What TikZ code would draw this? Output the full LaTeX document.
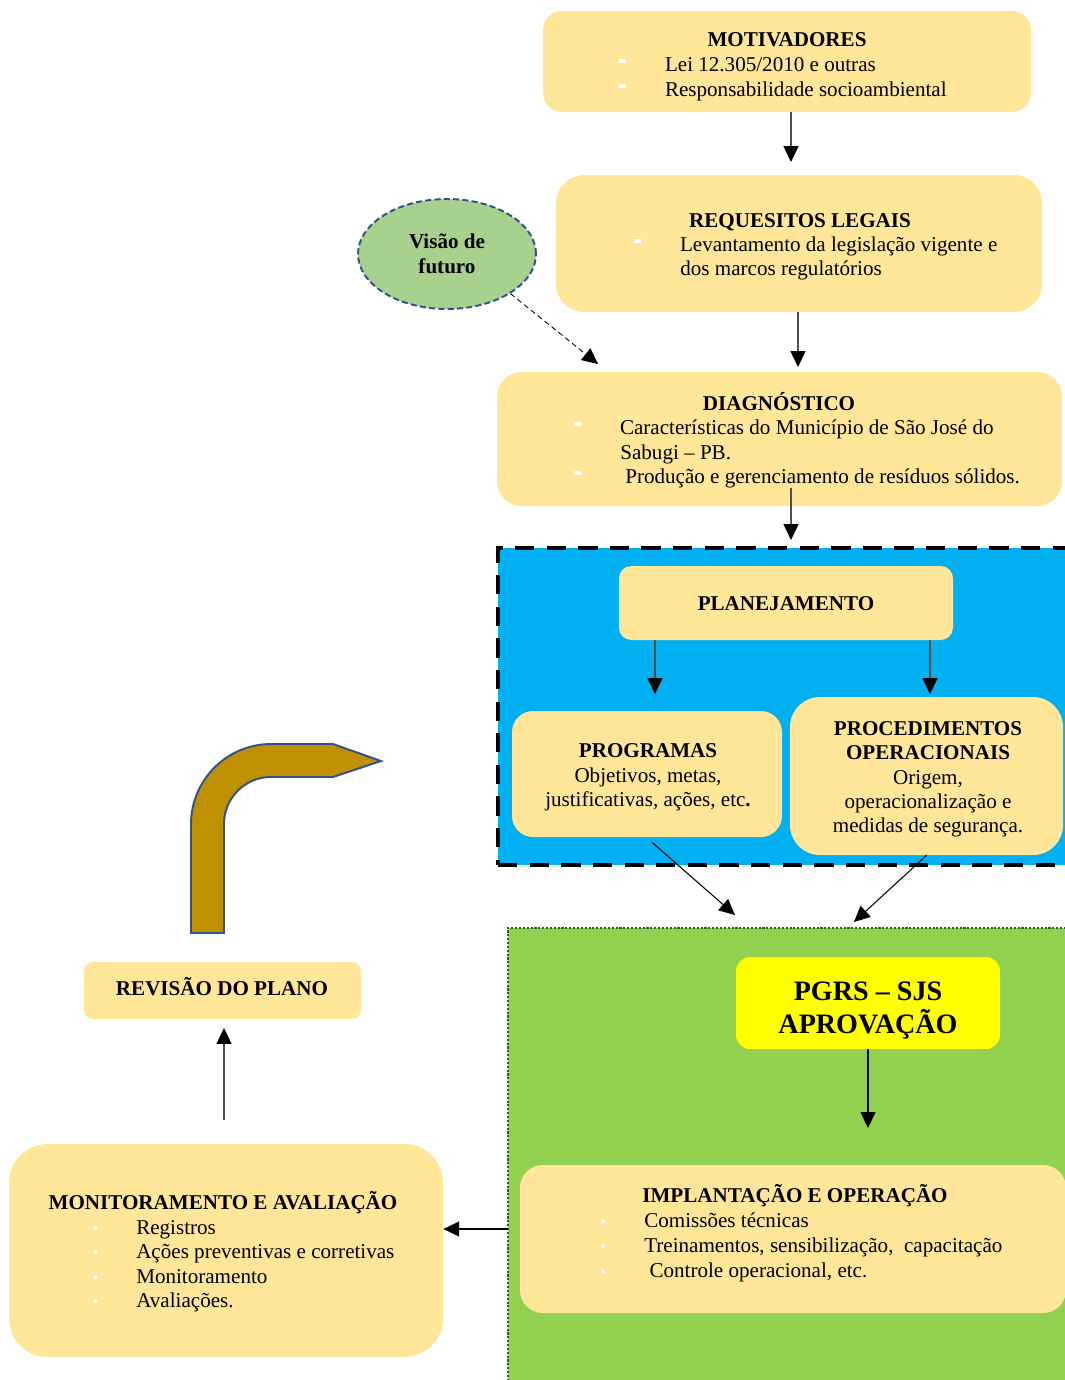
\documentclass[tikz,border=0pt]{standalone}
\usepackage{fontspec}
\setmainfont{Liberation Serif}
\usepackage{tikz}
\usetikzlibrary{arrows.meta,positioning,fit,shapes.geometric}
\definecolor{boxfill}{HTML}{FFE699}
\definecolor{planblue}{HTML}{00B0F0}
\definecolor{aprgreen}{HTML}{92D050}
\definecolor{dotgreen}{HTML}{385723}
\definecolor{visgreen}{HTML}{A9D18E}
\definecolor{edgeblue}{HTML}{2F528F}
\definecolor{bentgold}{HTML}{BF9000}
\definecolor{aprylw}{HTML}{FFFF00}
\definecolor{linegray}{HTML}{505050}

\newcommand{\sqbul}{\makebox[26pt][l]{\textcolor{white}{\rule[4.4pt]{3.6pt}{2.2pt}}}}
\newcommand{\dotbul}{\makebox[25pt][l]{\textcolor{white}{\fontsize{10}{10}\selectfont\textbullet}}}
\newcommand{\txtfont}{\fontsize{12}{14.2}\selectfont}

\tikzset{
  box/.style={fill=boxfill, inner sep=0pt},
  ttl/.style={font=\txtfont\bfseries, anchor=base, inner sep=0pt},
  itm/.style={anchor=base west, inner sep=0pt},
  ctr/.style={anchor=base, inner sep=0pt},
  arr/.style={draw=linegray, line width=0.6pt, -{Triangle[width=8.5pt,length=9pt,color=black]}},
  arrdot/.style={arr, draw=black, line width=0.5pt, densely dashed},
}

\begin{document}
\begin{tikzpicture}[x=0.02cm, y=-0.02cm, font=\txtfont]
\useasboundingbox (0,0) rectangle (1065,1380);
\clip (0,0) rectangle (1065,1380);

% frames
\node[fit={(498,548) (1085,865)}, inner sep=0pt, fill=planblue, draw=black,
  line width=2.3pt, dash pattern=on 11pt off 7pt] (plfr) {};
\node[fit={(508,928) (1085,1395)}, inner sep=0pt, fill=aprgreen, draw=dotgreen,
  line width=1.2pt, densely dotted] (apfr) {};

% boxes
\node[box, rounded corners=11pt, fit={(543,11) (1031,112)}] (mot) {};
\node[box, rounded corners=16pt, fit={(556,175) (1042,312)}] (req) {};
\node[box, rounded corners=14pt, fit={(497,372) (1062,506)}] (diag) {};
\node[box, rounded corners=7pt, fit={(619,566) (953,640)}] (plan) {};
\node[box, rounded corners=12pt, fit={(512,711) (782,837)}] (prog) {};
\node[box, rounded corners=17pt, fit={(790,697) (1063,855)}] (proc) {};
\node[box, fill=aprylw, rounded corners=8pt, fit={(736,957) (1000,1049)}] (pgrs) {};
\node[box, rounded corners=13pt, fit={(520,1165) (1066,1313)}] (impl) {};
\node[box, rounded corners=22pt, fit={(9,1144) (443,1357)}] (mon) {};
\node[box, rounded corners=5pt, fit={(84,962) (361,1019)}] (rev) {};
\node[ellipse, fill=visgreen, draw=edgeblue, line width=1.1pt, dash pattern=on 3.5pt off 1.8pt,
  minimum width=3.56cm, minimum height=2.2cm, inner sep=0pt, align=center,
  font=\txtfont\bfseries] (vis) at (447,254) {Visão de\\futuro};

% texts
\node[ttl] (motT) at (787,46) {MOTIVADORES};
\node[itm] (mot1) at (619,71) {\sqbul Lei 12.305/2010 e outras};
\node[itm] (mot2) at (619,96) {\sqbul Responsabilidade socioambiental};

\node[ttl] (reqT) at (800,227) {REQUESITOS LEGAIS};
\node[itm] (req1) at (634,251) {\sqbul Levantamento da legislação vigente e};
\node[itm] (req2) at (680,275) {dos marcos regulatórios};

\node[ttl] (diagT) at (779,410) {DIAGNÓSTICO};
\node[itm] (diag1) at (574,434) {\sqbul Características do Município de São José do};
\node[itm] (diag2) at (620,459) {Sabugi – PB.};
\node[itm] (diag3) at (574,483) {\sqbul\ Produção e gerenciamento de resíduos sólidos.};

\node[ttl] (planT) at (786,610) {PLANEJAMENTO};

\node[ttl] (progT) at (648,757) {PROGRAMAS};
\node[ctr] (prog1) at (648,782) {Objetivos, metas,};
\node[ctr] (prog2) at (648,806) {justificativas, ações, etc\textbf{.}};

\node[ttl] (procT1) at (928,735) {PROCEDIMENTOS};
\node[ttl] (procT2) at (928,759) {OPERACIONAIS};
\node[ctr] (proc1) at (928,784) {Origem,};
\node[ctr] (proc2) at (928,808) {operacionalização e};
\node[ctr] (proc3) at (928,832) {medidas de segurança.};

\node[ttl, font=\fontsize{16}{19}\selectfont\bfseries] (pgrsT1) at (868,1000) {PGRS – SJS};
\node[ttl, font=\fontsize{16}{19}\selectfont\bfseries] (pgrsT2) at (868,1033) {APROVAÇÃO};

\node[ttl] (implT) at (795,1202) {IMPLANTAÇÃO E OPERAÇÃO};
\node[itm] (impl1) at (600,1227) {\dotbul Comissões técnicas};
\node[itm] (impl2) at (600,1252) {\dotbul Treinamentos, sensibilização,\ \ capacitação};
\node[itm] (impl3) at (600,1277) {\dotbul\ Controle operacional, etc.};

\node[ttl] (monT) at (223,1209) {MONITORAMENTO E AVALIAÇÃO};
\node[itm] (mon1) at (92,1234) {\dotbul Registros};
\node[itm] (mon2) at (92,1258) {\dotbul Ações preventivas e corretivas};
\node[itm] (mon3) at (92,1283) {\dotbul Monitoramento};
\node[itm] (mon4) at (92,1307) {\dotbul Avaliações.};

\node[ttl] (revT) at (222,995) {REVISÃO DO PLANO};

% connectors
\coordinate (a1) at (791,162);
\coordinate (a2) at (798,367);
\coordinate (a3) at (598,364);
\coordinate (a4) at (791,540);
\coordinate (a5) at (655,694);
\coordinate (a6) at (930,694);
\coordinate (a7) at (735,915);
\coordinate (a8) at (854,922);
\coordinate (a9) at (868,1128);
\coordinate (a10) at (508,1229);
\coordinate (a11) at (224,1120);
\coordinate (a12) at (224,1028);
\draw[arr] (mot.south -| a1) -- (a1);
\draw[arr] (req.south -| a2) -- (a2);
\draw[arrdot] (vis.-32) -- (a3);
\draw[arr] ([yshift=0.36cm]diag.south -| a4) -- (a4);
\draw[arr] (plan.south -| a5) -- (a5);
\draw[arr] (plan.south -| a6) -- (a6);
\draw[arr, draw=black] ([xshift=0.1cm,yshift=-0.1cm]prog.south) -- (a7);
\draw[arr, draw=black] (proc.south) -- (a8);
\draw[arr, draw=black] (pgrs.south -| a9) -- (a9);
\draw[arr, draw=black] (a10) -- (mon.east |- a10);
\draw[arr] (a11) -- (a12);

% bent arrow
\draw[fill=bentgold, draw=edgeblue, line width=1.1pt, line join=miter]
  (191,933) -- (191,824) .. controls (191,780) and (227,744) .. (271,744)
  -- (333,744) -- (381,761) -- (333,777) -- (271,777)
  .. controls (245,777) and (224,798) .. (224,824) -- (224,933) -- cycle;
\end{tikzpicture}
\end{document}
